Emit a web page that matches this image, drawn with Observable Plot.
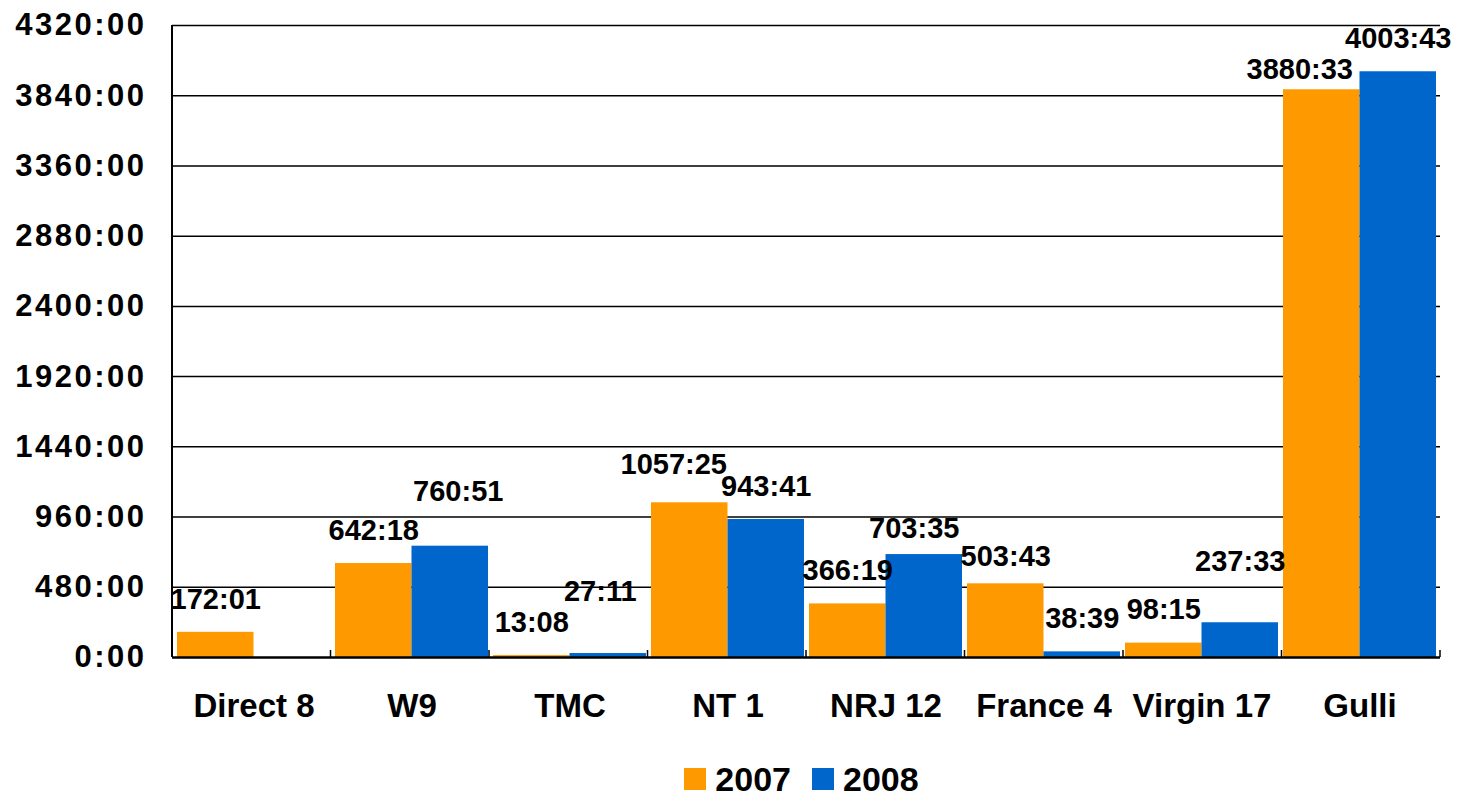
<!DOCTYPE html>
<html>
<head>
<meta charset="utf-8">
<script src="https://cdn.jsdelivr.net/npm/d3@7"></script>
<script src="https://cdn.jsdelivr.net/npm/@observablehq/plot@0.6"></script>
<style>
  html, body { margin: 0; padding: 0; background: #fff; }
  body { font-family: "Liberation Sans", Arial, sans-serif; font-weight: bold; width: 1468px; }
  #chart svg { display: block; }
  #chart g[aria-label="y-axis tick label"] text { letter-spacing: 2.5px; }
  #legend { display: flex; justify-content: center; align-items: center; padding-left: 184px; padding-right: 28px; margin-top: 12px; font-size: 34px; line-height: 34px; }
  .sw { width: 22px; height: 22px; display: inline-block; margin-right: 9px; }
  .item { display: flex; align-items: center; margin-right: 21px; }
</style>
</head>
<body>
<div id="chart"></div>
<div id="legend"></div>
<script>
// ---- data ----
const categories = ["Direct 8", "W9", "TMC", "NT 1", "NRJ 12", "France 4", "Virgin 17", "Gulli"];
const years = ["2007", "2008"];
const values2007 = ["172:01", "642:18", "13:08", "1057:25", "366:19", "503:43", "98:15", "3880:33"];
const values2008 = [null, "760:51", "27:11", "943:41", "703:35", "38:39", "237:33", "4003:43"];
const yTicks = [0, 480, 960, 1440, 1920, 2400, 2880, 3360, 3840, 4320];

// ---- build ----
const colors = {"2007": "#FF9900", "2008": "#0066CC"};
const toHours = s => { const [h, m] = s.split(":").map(Number); return h + m / 60; };
const rows = categories.flatMap((c, i) => [
  {cat: c, year: "2007", label: values2007[i]},
  {cat: c, year: "2008", label: values2008[i]}
]).filter(d => d.label).map(d => ({...d, hours: toHours(d.label)}));

const W = 1468, H = 750, ML = 172, MR = 28, MT = 25, MB = 93;
const pad = 0.0347;
const step = (W - ML - MR) / (categories.length - pad + 2 * (pad / 2));
const band = step * (1 - pad);
const half = band / 2;

// label nudges (pixels) to mimic the original placement
const nudge = {
  "W9|2008": [8, -21], "TMC|2008": [-8, -29], "Virgin 17|2008": [0, -28],
  "NT 1|2007": [-16, -5], "NRJ 12|2008": [-10, 7], "France 4|2007": [0, 6],
  "Gulli|2007": [-22, 13]
};

const frameMark = (index, scales, values, dims) => {
  const g = d3.create("svg:g");
  const x0 = dims.marginLeft, x1 = dims.width - dims.marginRight;
  const yb = dims.height - dims.marginBottom;
  g.append("line").attr("x1", x0).attr("x2", x0).attr("y1", dims.marginTop).attr("y2", yb)
    .attr("stroke", "black").attr("stroke-width", 2);
  const s = (x1 - x0) / categories.length;
  for (let k = 1; k <= categories.length; k++) {
    g.append("line").attr("x1", x0 + k * s).attr("x2", x0 + k * s).attr("y1", yb - 7).attr("y2", yb)
      .attr("stroke", "black").attr("stroke-width", 1.5);
  }
  return g.node();
};

const plot = Plot.plot({
  width: W, height: H,
  marginLeft: ML, marginRight: MR, marginTop: MT, marginBottom: MB,
  style: {fontFamily: "Liberation Sans, Arial, sans-serif", fontWeight: "bold", background: "white", color: "black", overflow: "visible"},
  x: {domain: categories, paddingInner: pad, paddingOuter: pad / 2, label: null},
  y: {domain: [0, 4320], label: null},
  marks: [
    Plot.ruleY(yTicks.filter(t => t > 0), {stroke: "black", strokeWidth: 1.5}),
    Plot.barY(rows.filter(d => d.year === "2007"), {x: "cat", y: "hours", fill: colors["2007"], insetRight: half}),
    Plot.barY(rows.filter(d => d.year === "2008"), {x: "cat", y: "hours", fill: colors["2008"], insetLeft: half}),
    Plot.ruleY([0], {stroke: "black", strokeWidth: 2.5}),
    frameMark,
    ...rows.map(r => {
      const n = nudge[r.cat + "|" + r.year] || [0, 0];
      return Plot.text([r], {
        x: "cat", y: "hours", text: "label",
        dx: (r.year === "2007" ? -half / 2 : half / 2) + n[0], dy: -33 + n[1],
        fontSize: 29, fontWeight: "bold", fill: "black"
      });
    }),
    Plot.axisY({ticks: yTicks, tickFormat: v => `${v}:00`, tickSize: 0, tickPadding: 26, fontSize: 31, fontWeight: "bold", label: null}),
    Plot.axisX({tickSize: 0, tickPadding: 36, fontSize: 33, fontWeight: "bold", label: null})
  ]
});
document.getElementById("chart").append(plot);

const legend = document.getElementById("legend");
years.forEach(y => {
  const it = document.createElement("div");
  it.className = "item";
  const sw = document.createElement("span");
  sw.className = "sw";
  sw.style.background = colors[y];
  const t = document.createElement("span");
  t.textContent = y;
  it.append(sw, t);
  legend.append(it);
});
</script>
</body>
</html>
